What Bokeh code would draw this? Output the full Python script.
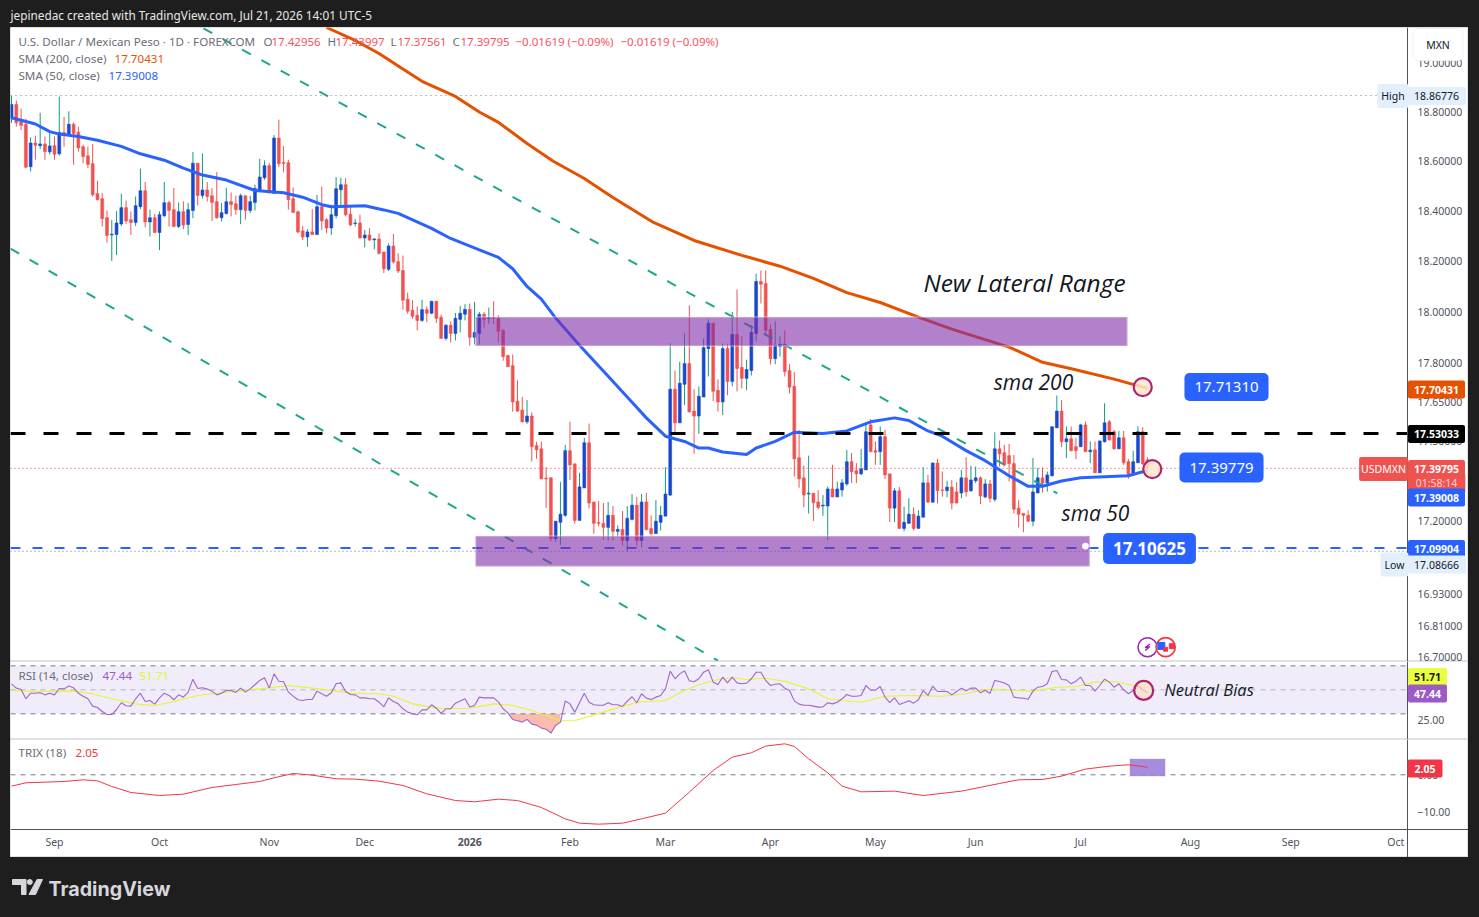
from bokeh.plotting import figure
from bokeh.layouts import column
from bokeh.models import (Label, BoxAnnotation, FixedTicker, NumeralTickFormatter,
                          Range1d, ColumnDataSource)
from bokeh.core.properties import value
from bokeh.embed import file_html
from bokeh.resources import INLINE

opens = [18.773,18.831,18.760,18.750,18.578,18.674,18.663,18.670,18.638,18.663,18.630,18.717,18.706,18.750,18.718,18.659,18.622,18.590,18.469,18.449,
18.373,18.304,18.306,18.348,18.413,18.365,18.354,18.417,18.481,18.356,18.373,18.314,18.381,18.433,18.405,18.338,18.397,18.346,18.402,18.592,
18.462,18.484,18.461,18.437,18.373,18.390,18.437,18.429,18.405,18.461,18.402,18.434,18.481,18.533,18.582,18.470,18.694,18.595,18.594,18.449,
18.397,18.320,18.296,18.316,18.306,18.417,18.365,18.332,18.381,18.485,18.505,18.387,18.350,18.352,18.292,18.304,18.285,18.288,18.236,18.168,
18.260,18.198,
18.163,18.050,18.007,17.987,17.967,18.009,17.995,18.042,17.979,17.897,
17.948,17.916,17.971,17.991,18.010,17.901,17.916,17.991,17.975,17.978,
17.975,17.928,17.830,17.791,17.654,17.620,17.575,17.597,17.484,17.472,
17.361,17.362,17.134,17.195,17.221,17.465,17.415,17.202,17.324,17.495,
17.271,17.194,17.191,17.176,17.221,17.161,17.168,17.127,17.206,17.259,
17.127,17.271,17.172,17.153,17.195,17.218,17.297,17.700,17.571,17.719,
17.799,17.616,17.597,17.670,17.857,17.956,17.696,17.651,17.857,17.730,
17.912,17.784,17.742,17.772,17.916,18.120,18.112,17.932,17.818,17.865,
17.873,17.772,17.711,17.438,17.362,17.301,17.304,17.271,17.256,17.256,
17.320,17.290,17.316,17.339,17.423,17.389,17.377,17.392,17.563,17.465,
17.461,17.518,17.377,17.248,17.313,17.172,17.191,17.225,17.172,17.214,
17.343,17.270,17.418,17.316,17.314,17.327,17.309,17.305,17.362,17.313,
17.351,17.362,17.290,17.339,17.281,17.472,17.457,17.446,17.416,17.248,
17.228,17.221,17.199,17.305,17.362,17.343,17.370,17.552,17.616,17.499,
17.510,17.480,17.480,17.563,17.461,17.468,17.381,17.499,17.575,17.537,
17.472,17.514,17.423,17.373,17.419,17.537,17.42956]

closes = [18.831,18.756,18.746,18.576,18.674,18.665,18.670,18.639,18.662,18.628,18.717,18.704,18.750,18.713,18.654,18.619,18.587,18.465,18.445,18.369,
18.302,18.307,18.352,18.413,18.360,18.354,18.421,18.481,18.356,18.373,18.314,18.385,18.433,18.402,18.338,18.397,18.344,18.405,18.592,18.462,
18.484,18.458,18.434,18.373,18.393,18.437,18.426,18.405,18.461,18.402,18.437,18.490,18.536,18.582,18.472,18.694,18.590,18.591,18.445,18.394,
18.316,18.296,18.316,18.306,18.417,18.360,18.332,18.385,18.489,18.505,18.385,18.344,18.352,18.292,18.304,18.284,18.288,18.231,18.170,18.260,
18.197,18.161,
18.046,18.003,17.983,17.967,18.009,17.995,18.042,17.975,17.897,17.948,
17.916,17.975,17.995,18.010,17.901,17.920,17.991,17.971,17.978,17.975,
17.924,17.826,17.787,17.651,17.616,17.575,17.597,17.480,17.468,17.358,
17.358,17.134,17.199,17.225,17.465,17.411,17.202,17.328,17.495,17.267,
17.191,17.191,17.176,17.221,17.161,17.168,17.127,17.210,17.259,17.127,
17.271,17.168,17.153,17.199,17.221,17.301,17.700,17.571,17.723,17.799,
17.613,17.597,17.673,17.861,17.956,17.692,17.651,17.857,17.730,17.912,
17.780,17.742,17.776,17.920,18.120,18.109,17.928,17.818,17.869,17.873,
17.768,17.708,17.434,17.358,17.297,17.304,17.268,17.251,17.259,17.320,
17.290,17.320,17.343,17.423,17.385,17.377,17.396,17.537,17.461,17.459,
17.518,17.373,17.248,17.313,17.172,17.195,17.225,17.172,17.218,17.343,
17.271,17.418,17.314,17.314,17.327,17.267,17.267,17.362,17.309,17.354,
17.362,17.294,17.339,17.285,17.472,17.453,17.411,17.416,17.244,17.225,
17.221,17.199,17.309,17.362,17.342,17.373,17.556,17.616,17.499,17.510,
17.465,17.465,17.563,17.461,17.467,17.381,17.502,17.571,17.506,17.472,
17.514,17.419,17.373,17.423,17.537,17.415,17.39795]

highs = [18.867,18.847,18.813,18.773,18.697,18.704,18.797,18.700,18.720,18.700,18.863,18.780,18.803,18.758,18.740,18.667,18.659,18.670,18.521,18.472,
18.401,18.364,18.399,18.469,18.441,18.398,18.458,18.570,18.516,18.405,18.389,18.398,18.516,18.441,18.492,18.434,18.438,18.432,18.637,18.592,
18.632,18.516,18.492,18.556,18.432,18.493,18.474,18.461,18.469,18.461,18.461,18.505,18.610,18.603,18.592,18.706,18.769,18.662,18.606,18.494,
18.401,18.340,18.327,18.407,18.464,18.498,18.371,18.425,18.536,18.533,18.532,18.418,18.367,18.385,18.324,18.331,18.292,18.311,18.237,18.271,
18.308,18.231,
18.222,18.076,18.046,18.022,18.048,18.022,18.042,18.042,17.990,17.952,
17.963,17.996,18.024,18.030,18.033,18.039,18.000,18.000,18.017,18.042,
17.987,17.932,17.834,17.834,17.734,17.671,17.658,17.611,17.499,17.499,
17.402,17.365,17.199,17.347,17.487,17.575,17.415,17.381,17.514,17.568,
17.272,17.275,17.267,17.271,17.256,17.183,17.237,17.256,17.301,17.290,
17.301,17.305,17.221,17.278,17.256,17.402,17.877,17.772,17.806,17.916,
18.026,17.700,17.711,17.897,17.971,17.956,17.738,17.876,17.876,18.000,
18.088,17.905,17.814,17.948,18.150,18.163,18.163,17.952,17.963,17.905,
17.928,17.797,17.766,17.544,17.408,17.446,17.304,17.316,17.297,17.329,
17.411,17.348,17.357,17.468,17.456,17.418,17.471,17.572,17.585,17.500,
17.557,17.544,17.377,17.323,17.327,17.253,17.285,17.251,17.240,17.402,
17.373,17.420,17.434,17.386,17.351,17.354,17.345,17.392,17.440,17.408,
17.405,17.367,17.357,17.354,17.535,17.503,17.487,17.491,17.449,17.278,
17.228,17.240,17.437,17.399,17.401,17.386,17.557,17.676,17.658,17.557,
17.557,17.514,17.567,17.576,17.500,17.500,17.502,17.646,17.582,17.544,
17.540,17.540,17.433,17.465,17.558,17.554,17.43997]

lows = [18.756,18.740,18.726,18.572,18.559,18.606,18.649,18.606,18.627,18.606,18.623,18.659,18.706,18.586,18.639,18.592,18.572,18.458,18.442,18.338,
18.273,18.201,18.224,18.340,18.348,18.304,18.340,18.407,18.335,18.298,18.311,18.244,18.375,18.338,18.335,18.332,18.327,18.304,18.371,18.422,
18.450,18.438,18.360,18.369,18.358,18.385,18.378,18.385,18.347,18.365,18.391,18.402,18.478,18.525,18.472,18.469,18.576,18.555,18.405,18.391,
18.311,18.284,18.257,18.304,18.304,18.324,18.311,18.304,18.370,18.411,18.378,18.338,18.338,18.291,18.255,18.280,18.247,18.226,18.153,18.161,
18.190,18.153,
18.009,17.993,17.973,17.928,17.961,17.960,17.991,17.957,17.895,17.889,
17.881,17.889,17.920,17.967,17.869,17.873,17.873,17.939,17.954,17.952,
17.881,17.810,17.787,17.614,17.613,17.572,17.567,17.424,17.434,17.357,
17.249,17.123,17.123,17.111,17.215,17.354,17.190,17.202,17.324,17.247,
17.152,17.180,17.129,17.127,17.127,17.142,17.108,17.085,17.202,17.108,
17.101,17.164,17.145,17.152,17.164,17.218,17.294,17.535,17.571,17.639,
17.610,17.453,17.529,17.670,17.749,17.654,17.614,17.601,17.677,17.711,
17.692,17.703,17.696,17.753,17.885,18.033,17.915,17.795,17.797,17.826,
17.749,17.684,17.367,17.325,17.251,17.228,17.200,17.243,17.219,17.129,
17.289,17.290,17.291,17.332,17.342,17.342,17.373,17.392,17.461,17.411,
17.411,17.357,17.196,17.196,17.171,17.161,17.190,17.164,17.172,17.214,
17.266,17.270,17.266,17.291,17.289,17.244,17.267,17.285,17.291,17.310,
17.342,17.263,17.285,17.270,17.272,17.405,17.405,17.348,17.228,17.175,
17.158,17.196,17.180,17.304,17.306,17.310,17.367,17.551,17.478,17.437,
17.462,17.433,17.480,17.461,17.418,17.380,17.381,17.496,17.504,17.468,
17.471,17.411,17.359,17.373,17.419,17.411,17.37561]

sma50_i = [0,5,8,10,14,18,23,27,32,36,40,45,51,57,61,65,67,74,78,81,88,92,98,102,105,108,111,114,119,125,130,133,137,141,144,146,149,154,156,160,164,170,175,180,185,188,192,195,200,204,209,213,216,220,224,234,238]
sma50_v = [18.777,18.751,18.720,18.710,18.700,18.685,18.660,18.630,18.604,18.572,18.544,18.524,18.482,18.473,18.455,18.425,18.417,18.421,18.404,18.390,18.330,18.290,18.245,18.215,18.170,18.100,18.050,17.976,17.870,17.750,17.650,17.590,17.520,17.500,17.475,17.475,17.460,17.450,17.475,17.500,17.535,17.530,17.540,17.575,17.590,17.580,17.540,17.520,17.465,17.427,17.370,17.330,17.330,17.350,17.362,17.370,17.39008]

sma200_i = [66,72,77,81.5,86,93,98,102,108,113.5,120,126,134.5,143,153,161,168,175,182,190,197,209,216,222.5,231,237,238]
sma200_v = [19.149,19.095,19.041,18.983,18.926,18.864,18.800,18.758,18.672,18.600,18.530,18.454,18.354,18.282,18.223,18.180,18.132,18.076,18.037,17.980,17.933,17.863,17.804,17.777,17.739,17.708,17.70431]

rsi_v = [55.0,51.4,50.3,42.5,47.2,47.2,47.5,45.8,47.2,45.8,51.1,50.8,53.1,51.7,47.2,44.7,42.5,36.4,35.3,31.9,29.4,29.4,33.6,39.2,36.7,36.4,42.5,47.2,40.3,41.1,38.1,43.3,47.2,45.3,41.7,45.8,43.9,48.1,58.9,51.1,51.7,50.6,48.9,45.8,47.2,49.7,49.4,47.8,51.4,48.1,50.8,54.2,57.8,60.0,51.4,63.3,57.2,56.7,48.1,44.7,41.7,41.1,41.9,41.9,48.9,46.7,44.7,47.5,55.0,55.8,48.6,46.1,45.8,43.3,43.3,42.5,42.5,39.7,35.8,43.3,40.3,38.3,34.2,31.4,30.0,29.2,33.3,33.3,37.5,34.7,30.3,34.2,34.2,38.9,40.6,42.5,35.6,36.9,43.9,43.3,43.3,43.3,40.0,
34.2,30.8,25.3,24.2,23.1,25.3,21.4,20.6,18.1,17.2,13.9,20.3,23.1,40.6,38.3,31.4,39.2,47.2,39.7,37.5,37.2,37.2,39.2,37.5,37.5,36.1,40.6,44.2,39.2,46.7,43.1,41.9,43.9,45.3,50.8,65.6,59.2,63.3,65.8,57.5,56.7,59.2,64.7,66.7,56.4,54.4,60.6,55.8,60.6,55.8,55.0,55.6,59.2,64.7,64.7,57.8,53.6,54.7,55.0,51.4,49.4,40.8,38.1,37.2,37.2,36.4,35.6,35.8,39.2,38.3,39.7,42.5,46.1,44.7,44.7,45.3,53.6,49.7,49.7,52.8,43.9,39.4,43.3,37.8,39.2,40.8,38.9,41.7,49.4,45.3,53.1,48.6,48.6,48.6,45.8,48.6,51.4,49.2,51.4,51.4,47.5,49.7,47.0,57.8,56.9,
55.6,53.6,43.9,43.3,43.0,42.2,48.9,52.2,52.8,55.0,65.3,66.1,58.6,58.3,55.0,57.2,60.6,53.6,53.6,48.9,53.6,58.9,56.4,52.2,55.0,50.0,46.7,49.4,53.6,50.0,47.44]

rsi_ma_i = [0,5,13,17,21,26,30,34,39,43,47,52,58,63,68,72,77,80,84,88,91,96,101,105,109,113,115,118,121,124,128,132,137,141,144,148,151,154,158,162,167,171,174,178,183,189,195,200,204,207,214,219,223,227,231,235,238]
rsi_ma_v = [49.4,48.6,48.9,46.7,42.5,38.3,36.9,40.3,45.3,47.2,48.9,50.8,53.6,51.4,48.9,46.7,46.7,44.7,38.3,35.6,34.2,34.7,38.3,36.9,32.8,27.2,24.2,24.4,27.8,31.4,36.4,40.0,41.1,49.4,54.2,58.6,60.3,58.6,59.7,57.2,50.8,42.5,41.1,39.7,44.7,45.3,44.7,46.7,50.3,50.0,48.9,52.2,52.8,56.4,56.9,53.6,51.71]

trix_i = [0,3,7,11,15,18,21,25,31,36,42,47,52,55,59,63,68,72,77,82,87,93,97,102,106,111,116,119,123,128,132,137,142,147,151,155,158,162,164,167,171,174,178,185,191,199,207,211,216,220,225,230,234,237,238]
trix_v = [-3.09,-2.18,-2.00,-1.82,-1.36,-1.64,-3.18,-4.82,-5.64,-5.27,-3.45,-2.64,-1.82,-0.82,0.36,-0.09,-1.09,-1.18,-1.73,-2.91,-5.18,-7.00,-7.36,-6.64,-7.00,-8.91,-12.00,-13.18,-13.45,-13.18,-12.00,-10.45,-4.73,1.18,4.82,6.00,7.82,8.45,7.73,4.36,0.55,-3.09,-4.64,-4.45,-5.64,-4.45,-2.36,-1.36,-1.27,-0.36,1.55,2.36,2.73,2.27,2.05]

month_ticks = [9,31,54,74,96,117,137,159,181,202,224,247,268,290]
month_labels = ["Sep","Oct","Nov","Dec","2026","Feb","Mar","Apr","May","Jun","Jul","Aug","Sep","Oct"]
price_ticks = [19.0,18.8,18.6,18.4,18.2,18.0,17.8,17.65,17.5,17.2,16.93,16.81]
last_price_tick = "16.70000"

UP, DOWN, UPW = "#1848cc", "#ef5350", "#0f9d84"
FONT = "Noto Sans"
DARK = "#1e1e1e"
XL, XE = -0.218, 292.47           # left edge and price-scale edge of the plot
XR = Range1d(XL, 305.25)

def make_panel(height, yr, y_type="linear", axis_x=XE):
    p = figure(width=1458, height=height, x_range=XR, y_range=yr, y_axis_type=y_type,
               y_axis_location="right", x_axis_location="below" if axis_x is None else None,
               output_backend="svg", toolbar_location=None, min_border=0,
               border_fill_color="white", background_fill_color="white",
               margin=(0, 0, 0, 10))
    p.grid.visible = False
    p.outline_line_color = "#dfe1e8"
    ax = p.yaxis[0]
    ax.fixed_location = XE
    ax.axis_line_color = "#50535e"
    ax.major_tick_out = 0
    ax.major_tick_in = 0
    ax.major_tick_line_color = None
    ax.minor_tick_line_color = None
    ax.major_label_text_font = FONT
    ax.major_label_text_font_size = "10.5px"
    ax.major_label_text_color = "#50535e"
    ax.major_label_standoff = 10
    return p

def hline(p, y, color, width, dash):
    p.line([XL, XE], [y, y], line_color=color, line_width=width, line_dash=dash)

def note(p, frame_bottom, px, py, text, color="#6a6d78", size="11.6px", font=FONT, style="normal", align="left", **kw):
    p.add_layout(Label(x=px - 10, y=frame_bottom - py + 1, x_units="screen", y_units="screen", text=text,
                       text_color=color, text_font_size=size, text_font=font, text_font_style=style,
                       text_align=align, text_baseline="middle", **kw))

def tag(p, frame_bottom, px, py, text, bg, color="white", size="10.5px", pad=(6, 5), style="bold", radius=2, **kw):
    # padding is (horizontal, vertical)
    p.add_layout(Label(x=px - 10, y=frame_bottom - py, x_units="screen", y_units="screen", text=text,
                       text_color=color, text_font_size=size, text_font=FONT, text_font_style=style,
                       text_align="center", text_baseline="middle", background_fill_color=bg,
                       padding=pad, border_radius=radius, **kw))

# ---------------- header strip
top = figure(width=1479, height=27, x_range=Range1d(0, 1479), y_range=Range1d(27, 0), x_axis_location=None,
             y_axis_location=None, output_backend="svg", toolbar_location=None, min_border=0,
             border_fill_color=DARK, background_fill_color=DARK, outline_line_color=None)
top.grid.visible = False
top.text([10], [14.5], text=["jepinedac created with TradingView.com, Jul 21, 2026 14:01 UTC-5"], text_color="#e8e8e8",
         text_font=value("Noto Sans"), text_font_size="11.8px", text_baseline="middle")

# ---------------- price panel
FB = 661
p = make_panel(634, Range1d(16.682, 19.149), "log")
p.yaxis.ticker = FixedTicker(ticks=price_ticks)
p.yaxis.formatter = NumeralTickFormatter(format="0.00000")
# lowest scale label sits on the pane's bottom edge: anchored by its baseline so it stays whole
p.add_layout(Label(x=1417 - 10, y=1, x_units="screen", y_units="screen", text=last_price_tick, text_font=FONT,
                   text_font_size="10.5px", text_color="#50535e", text_baseline="bottom"))

xs = list(range(len(opens)))
bc = [UP if c >= o else DOWN for o, c in zip(opens, closes)]
wc = [UPW if c >= o else DOWN for o, c in zip(opens, closes)]
src = ColumnDataSource(dict(x=xs, o=opens, c=closes, h=highs, l=lows, bc=bc, wc=wc,
                            t=[max(a, b) for a, b in zip(opens, closes)],
                            b=[min(a, b) for a, b in zip(opens, closes)]))
p.segment("x", "h", "x", "l", source=src, color="wc", line_width=1)
p.vbar("x", top="t", bottom="b", width=0.6, source=src, fill_color="bc", line_color="bc", line_width=0.6)

p.line([40.2, 219.1], [19.145, 17.303], line_color="#1fa68f", line_width=2, line_dash="10 12")
p.line([-0.2, 148.0], [18.25, 16.685], line_color="#1fa68f", line_width=2, line_dash="10 12")
p.line(sma200_i, sma200_v, line_color="#e65100", line_width=3)
p.line(sma50_i, sma50_v, line_color="#2962ff", line_width=3)

hline(p, 18.86776, "#787b86", 1, "1 4")
hline(p, 17.08666, "#787b86", 1, "1 3")
hline(p, 17.39795, "#f23645", 1, "1 3")
hline(p, 17.53033, "black", 3, "15 18")
hline(p, 17.09904, "#2962ff", 2, "10 12")
for l_, r_, t_, b_ in [(97.2, 233.8, 17.98, 17.867), (97.2, 225.9, 17.144, 17.03)]:
    p.add_layout(BoxAnnotation(left=l_, right=r_, top=t_, bottom=b_, fill_color="#802daa", fill_alpha=0.6,
                               line_color="#eeeeee", line_width=2))

p.scatter([237, 239], [17.708, 17.395], size=18, fill_color="#fbe8cc", fill_alpha=0.85, line_color="#b0246e",
          line_width=2.2, level="overlay")
p.scatter([225], [17.106], size=6, fill_color="white", line_color="white", level="overlay")

# event icons
p.scatter([238], [16.734], size=19, fill_color="white", line_color="#9c27b0", line_width=1.6)
p.line([238.5, 237.5, 238.5, 237.5], [16.7455, 16.7325, 16.7355, 16.7225], line_color="#9c27b0", line_width=1.4)
p.scatter([241.8], [16.734], size=19, fill_color="white", line_color="#f23645", line_width=1.8)
p.scatter([240.9], [16.7385], size=7, marker="square", fill_color="#2962ff", line_color="#2962ff")
p.scatter([243.1], [16.7375], size=5, marker="square", fill_color="#f23645", line_color="#f23645")
p.scatter([241.8], [16.7265], size=4, marker="square", fill_color="#f23645", line_color="#f23645")

# annotations text
ITAL = "Open Sans"
note(p, FB, 1024, 283, "New Lateral Range", color="#131722", size="24.5px", font=ITAL, style="italic", align="center")
note(p, FB, 1033, 382, "sma 200", color="#131722", size="21px", font=ITAL, style="italic", align="center")
note(p, FB, 1095, 513, "sma 50", color="#131722", size="21px", font=ITAL, style="italic", align="center")
tag(p, FB, 1226, 386.5, "17.71310", "#2962ff", size="15px", pad=(10, 9), style="normal", radius=5)
tag(p, FB, 1221, 467, "17.39779", "#2962ff", size="15px", pad=(10, 10), style="normal", radius=5)
tag(p, FB, 1149, 548, "17.10625", "#2962ff", size="17px", pad=(10, 9), style="bold", radius=5)

# legend
note(p, FB, 18, 42, "U.S. Dollar / Mexican Peso · 1D · FOREXCOM")
for x_, t_ in [(263, "O"), (327, "H"), (390, "L"), (452, "C")]:
    note(p, FB, x_, 42, t_)
for x_, t_ in [(271, "17.42956"), (335, "17.43997"), (397, "17.37561"), (460, "17.39795"),
               (515, "−0.01619 (−0.09%)"), (620, "−0.01619 (−0.09%)")]:
    note(p, FB, x_, 42, t_, color="#f7525f", size="11.5px")
note(p, FB, 18, 59, "SMA (200, close)")
note(p, FB, 114, 59, "17.70431", color="#e65100")
note(p, FB, 18, 76, "SMA (50, close)")
note(p, FB, 108, 76, "17.39008", color="#2962ff")

# price scale tags
tag(p, FB, 1437.5, 44, "MXN", "white", color="#131722", pad=(13, 9), style="normal", radius=5,
    border_line_color="#eef0f5")
tag(p, FB, 1436, 95.5, "18.86776", "#e3effd", color="#131722", pad=(7, 5), style="normal")
tag(p, FB, 1392.5, 95.5, "High", "#e3effd", color="#131722", pad=(4, 5), style="normal")
tag(p, FB, 1436, 389, "17.70431", "#e65100")
tag(p, FB, 1436, 433.5, "17.53033", "black")
tag(p, FB, 1383, 468.5, "USDMXN", "#ef5350", pad=(2, 5), style="normal")
tag(p, FB, 1436, 468.5, "17.39795", "#ef5350")
tag(p, FB, 1436, 482.5, "01:58:14", "#ef5350", color="#fcd6d4", pad=(8, 3), style="normal")
tag(p, FB, 1436, 497, "17.39008", "#2962ff")
tag(p, FB, 1436, 548.5, "17.09904", "#2962ff")
tag(p, FB, 1436, 564, "17.08666", "#e3effd", color="#131722", pad=(7, 5), style="normal")
tag(p, FB, 1394, 564, "Low", "#e3effd", color="#131722", pad=(4, 5), style="normal")

# ---------------- RSI panel
FB2 = 739
r = make_panel(78, Range1d(8.6, 73.6))
r.yaxis.ticker = FixedTicker(ticks=[25])
r.yaxis.formatter = NumeralTickFormatter(format="0.00")
r.add_layout(BoxAnnotation(left=XL, right=XE, top=70, bottom=30, fill_color="#f0ecf9", fill_alpha=1,
                           line_color=None, level="underlay"))
rsi_x = list(range(len(rsi_v)))
over_x = rsi_x[104:116]
r.varea(over_x, [30] * len(over_x), [min(v, 30) for v in rsi_v[104:116]], fill_color="#f7a08c", fill_alpha=0.7)
hline(r, 70, "#787b86", 1, "5 5")
hline(r, 50, "#b2b5be", 1, "5 5")
hline(r, 30, "#787b86", 1, "5 5")
r.line(rsi_ma_i, rsi_ma_v, line_color="#e6f52e", line_width=1.1)
r.line(rsi_x, rsi_v, line_color="#a066c8", line_width=1.1)
r.scatter([237.2], [49.5], size=19, fill_color="#fbe0c4", fill_alpha=0.7, line_color="#b0246e", line_width=2.2)
note(r, FB2, 1208.5, 689.5, "Neutral Bias", color="#131722", size="16.5px", font=ITAL, style="italic", align="center")
note(r, FB2, 18, 676, "RSI (14, close)")
note(r, FB2, 102, 676, "47.44", color="#9c5bc4")
note(r, FB2, 139, 676, "51.71", color="#e6f52e")
tag(r, FB2, 1427, 676.5, "51.71", "#eaff3d", color="#131722", pad=(6, 5))
tag(r, FB2, 1427, 693, "47.44", "#9c5bc4", pad=(6, 5))

# ---------------- TRIX panel (its frame includes the time scale strip)
FB3 = 857
t = make_panel(118, Range1d(-22.53, 9.62), axis_x=None)
t.yaxis.ticker = FixedTicker(ticks=[0, -10])
t.yaxis.formatter = NumeralTickFormatter(format="0.00")
t.yaxis.major_label_overrides = {-10: "−10.00"}
xa = t.xaxis[0]
xa.fixed_location = -14.9
xa.ticker = FixedTicker(ticks=month_ticks)
xa.major_label_overrides = {k: ("" if v == "2026" else v) for k, v in zip(month_ticks, month_labels)}
xa.major_tick_out = 0
xa.major_tick_in = 0
xa.major_tick_line_color = None
xa.minor_tick_line_color = None
xa.axis_line_color = "#50535e"
xa.major_label_text_font = FONT
xa.major_label_text_font_size = "10.5px"
xa.major_label_text_color = "#50535e"
xa.major_label_standoff = 6
t.add_layout(Label(x=96, y=16, x_units="data", y_units="screen", text="2026", text_font=FONT, text_font_style="bold",
                   text_font_size="10.5px", text_color="#50535e", text_align="center", text_baseline="middle"))
hline(t, 0, "#787b86", 1, "5 5")
t.quad(left=[234.2], right=[241.8], top=[4.44], bottom=[-0.46], fill_color="#9c7fd8", fill_alpha=0.9, line_color="#eeeeee")
t.line(trix_i, trix_v, line_color="#f23645", line_width=1)
note(t, FB3, 18, 753, "TRIX (18)")
note(t, FB3, 75, 753, "2.05", color="#f23645")
tag(t, FB3, 1424.5, 768, "2.05", "#f23645", pad=(7, 5))

# ---------------- footer strip
foot = figure(width=1479, height=60, x_range=Range1d(0, 1479), y_range=Range1d(917, 857), x_axis_location=None,
              y_axis_location=None, output_backend="svg", toolbar_location=None, min_border=0,
              border_fill_color=DARK, background_fill_color=DARK, outline_line_color=None)
foot.grid.visible = False
LOGO = "#d6d7dc"
foot.patch([12, 25.5, 25.5, 21, 21, 12], [879, 879, 894, 894, 884, 884], color=LOGO)
foot.scatter([29.3], [881.5], size=5, fill_color=LOGO, line_color=LOGO)
foot.patch([36.5, 42, 35, 28.5], [879, 879, 894, 894], color=LOGO)
foot.text([48], [888], text=["TradingView"], text_color=LOGO, text_font=value("Inter"), text_font_style="bold",
          text_font_size="19.7px", text_baseline="middle")

page = column(top, p, r, t, foot, spacing=0)
html = file_html(page, INLINE).replace("<body>", '<body style="background:#1e1e1e">')
open("out.html", "w").write(html)
